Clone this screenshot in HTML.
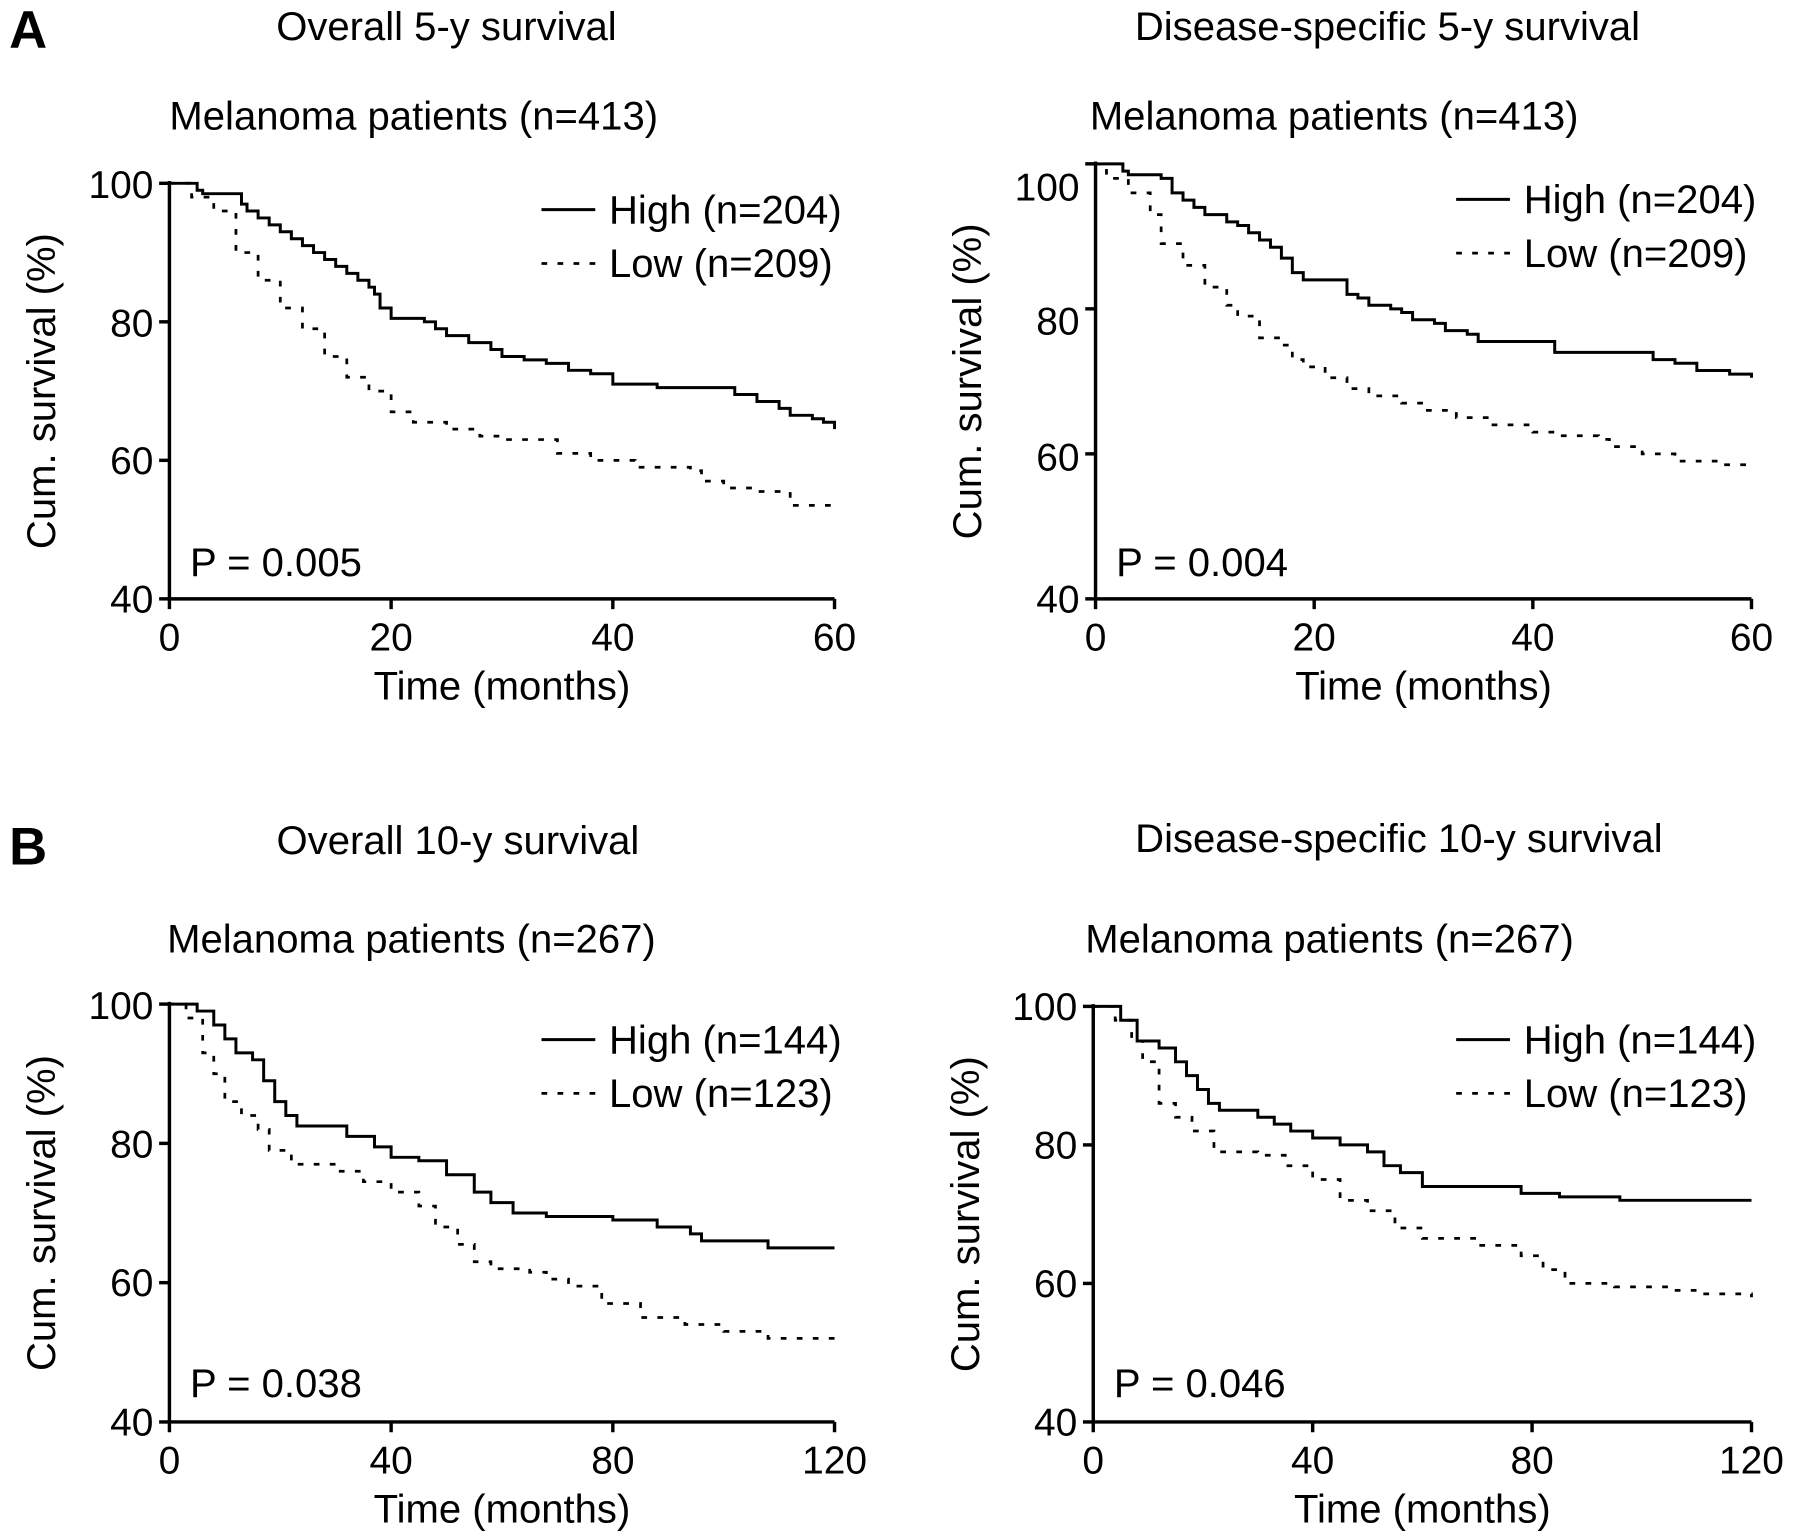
<!DOCTYPE html>
<html><head><meta charset="utf-8"><style>
html,body{margin:0;padding:0;background:#fff}
svg{display:block}
text{font-family:"Liberation Sans",Arial,sans-serif;fill:#000}
</style></head><body>
<svg id="fig" width="1795" height="1540" viewBox="0 0 1568 1345" xmlns="http://www.w3.org/2000/svg"></svg>
<script>
// ---- data ----
const a1HighT=[0,2,2.5,3,6.5,7,8,9,10,11,12,13,14,15,16,17,18,18.5,19,20,23,24,25,27,29,30,32,34,36,38,40,44,51,53,55,56,58,59,60];
const a1HighV=[100,100,99,98.5,97,96,95,94,93,92,91,90,89,88,87,86,85,84,82,80.5,80,79,78,77,76,75,74.5,74,73,72.5,71,70.5,69.5,68.5,67.5,66.5,66,65.5,64.5];
const a1LowT=[0,2,4,6,8,10,12,14,16,18,20,22,25,28,30,35,38,42,47,48,50,53,56,60];
const a1LowV=[100,98,96,90,86,82,79,75,72,70,67,65.5,64.5,63.5,63,61,60,59,58.5,57,56,55.5,53.5,53];
const a2HighT=[0,2,2.5,3,6,7,8,9,10,12,13,14,15,16,17,18,19,22,23,24,25,27,28,29,31,32,34,35,39,42,50,51,53,55,58,60];
const a2HighV=[100,100,99,98.5,98,96,95,94,93,92,91.5,90.5,89.5,88.5,87,85,84,84,82,81.5,80.5,80,79.5,78.5,78,77,76.5,75.5,75.5,74,74,73,72.5,71.5,71,70.5];
const a2LowT=[0,1,3,5,6,8,10,12,13,15,17,18,19,21,23,25,28,30,33,36,40,42,46,47,50,53,57,60];
const a2LowV=[100,98,96,93,89,86,83,80.5,79,76,75,73,72,70.5,69,68,67,66,65,64,63,62.5,62,61,60,59,58.5,58];
const b1HighT=[0,5,8,10,12,15,17,19,21,23,32,37,40,45,50,55,58,62,68,80,88,94,96,108,120];
const b1HighV=[100,99,97,95,93,92,89,86,84,82.5,81,79.5,78,77.5,75.5,73,71.5,70,69.5,69,68,67,66,65,65];
const b1LowT=[0,3,6,8,10,13,16,18,22,30,35,40,45,48,52,55,58,65,68,72,78,85,93,100,108,120];
const b1LowV=[100,98,93,90,86,84,82,79,77,76,74.5,73,71,68,65.5,63,62,61.5,60.5,59.5,57,55,54,53,52,52];
const b2HighT=[0,5,8,12,15,17,19,21,23,30,33,36,40,45,50,53,56,60,75,78,85,96,120];
const b2HighV=[100,98,95,94,92,90,88,86,85,84,83,82,81,80,79,77,76,74,74,73,72.5,72,72];
const b2LowT=[0,4,7,9,12,15,18,22,30,35,40,45,50,55,60,70,78,82,86,95,105,110,120];
const b2LowV=[100,98,95,92,86,84,82,79,78.5,77,75,72,70.5,68,66.5,65.5,64,62,60,59.5,59,58.5,58];
const yTicks=[40,60,80,100];
const xTicks5=[0,20,40,60];
const xTicks10=[0,40,80,120];

const NS="http://www.w3.org/2000/svg";
const svg=document.getElementById('fig');
function el(tag,attrs,parent,txt){const e=document.createElementNS(NS,tag);for(const k in attrs)e.setAttribute(k,attrs[k]);if(txt!==undefined)e.textContent=txt;(parent||svg).appendChild(e);return e;}

function panel(cfg){
  const g=el('g',{});
  
  
  const sx=t=>cfg.x0+(t-0)/cfg.xmax*(cfg.x1-cfg.x0);
  const sy=v=>cfg.y0+(v-40)/60*(cfg.y1-cfg.y0);
  const ax=el('path',{d:`M${sx(0)} ${sy(100)-2} V${sy(40)} H${sx(cfg.xmax)}`,stroke:'#000','stroke-width':3,fill:'none'},g);
  
  
  yTicks.forEach((v,i)=>{
    el('line',{x1:sx(0)-9,x2:sx(0),y1:sy(v),y2:sy(v),stroke:'#000','stroke-width':3},g);
    const t=el('text',{x:sx(0)-14,y:cfg.yLab[i],'text-anchor':'end','font-size':34},g,String(v));
    
    
  });
  cfg.xt.forEach(v=>{
    el('line',{x1:sx(v),x2:sx(v),y1:sy(40),y2:sy(40)+9,stroke:'#000','stroke-width':3},g);
    const t=el('text',{x:sx(v),y:sy(40)+45,'text-anchor':'middle','font-size':34},g,String(v));
    
    
  });
  const xt=el('text',{x:(sx(0)+sx(cfg.xmax))/2,y:sy(40)+88,'text-anchor':'middle','font-size':35},g,'Time (months)');
  
  
  const yc=(sy(40)+sy(100))/2;
  const yt=el('text',{x:0,y:0,'text-anchor':'middle','font-size':35,transform:`translate(${sx(0)-100},${yc}) rotate(-90)`},g,'Cum. survival (%)');
  
  
  function step(T,V){let d=`M${sx(T[0])} ${sy(V[0])}`;for(let i=1;i<T.length;i++){d+=` H${sx(T[i])} V${sy(V[i])}`;}return d;}
  const hi=el('path',{d:step(cfg.hT,cfg.hV),stroke:'#000','stroke-width':2.6,fill:'none'},g);
  
  
  const lo=el('path',{d:step(cfg.lT,cfg.lV),stroke:'#000','stroke-width':2.4,fill:'none','stroke-dasharray':'5 9'},g);
  
  
  const tt=el('text',{x:cfg.titleX,y:cfg.titleY,'text-anchor':'middle','font-size':35},g,cfg.title);
  
  
  const st=el('text',{x:cfg.subX,y:cfg.subY,'font-size':35},g,cfg.sub);
  
  
  const lg=el('g',{},g);
  
  
  el('line',{x1:cfg.lgX,x2:cfg.lgX+47,y1:cfg.lgY,y2:cfg.lgY,stroke:'#000','stroke-width':2.6},lg);
  const l1=el('text',{x:cfg.lgX+59,y:cfg.lgY+12,'font-size':35},lg,cfg.hiLab);
  
  
  el('line',{x1:cfg.lgX,x2:cfg.lgX+47,y1:cfg.lgY+47,y2:cfg.lgY+47,stroke:'#000','stroke-width':2.4,'stroke-dasharray':'5 9'},lg);
  const l2=el('text',{x:cfg.lgX+59,y:cfg.lgY+59,'font-size':35},lg,cfg.loLab);
  
  
  const p=el('text',{x:sx(0)+18,y:cfg.pY,'font-size':35},g,cfg.p);
  
  
}

const la=el('text',{x:8,y:42,'font-size':46,'font-weight':'bold'},svg,'A');


const lb=el('text',{x:8,y:755,'font-size':46,'font-weight':'bold'},svg,'B');



panel({name:'overall-5y-chart',x0:148,x1:729,y0:523,y1:160,xmax:60,xt:xTicks5,yLab:[535,414,294,173],
  hT:a1HighT,hV:a1HighV,lT:a1LowT,lV:a1LowV,title:'Overall 5-y survival',titleX:390,titleY:35,
  sub:'Melanoma patients (n=413)',subX:148,subY:113,lgX:473,lgY:183,hiLab:'High (n=204)',loLab:'Low  (n=209)',pY:503,p:'P = 0.005'});
panel({name:'disease-specific-5y-chart',x0:957,x1:1530,y0:523,y1:143,xmax:60,xt:xTicks5,yLab:[535,411,292,175],
  hT:a2HighT,hV:a2HighV,lT:a2LowT,lV:a2LowV,title:'Disease-specific 5-y survival',titleX:1212,titleY:35,
  sub:'Melanoma patients (n=413)',subX:952,subY:113,lgX:1272,lgY:174,hiLab:'High (n=204)',loLab:'Low  (n=209)',pY:503,p:'P = 0.004'});
panel({name:'overall-10y-chart',x0:148,x1:729,y0:1242,y1:877,xmax:120,xt:xTicks10,yLab:[1254,1132,1011,890],
  hT:b1HighT,hV:b1HighV,lT:b1LowT,lV:b1LowV,title:'Overall 10-y survival',titleX:400,titleY:746,
  sub:'Melanoma patients (n=267)',subX:146,subY:832,lgX:473,lgY:908,hiLab:'High (n=144)',loLab:'Low  (n=123)',pY:1220,p:'P = 0.038'});
panel({name:'disease-specific-10y-chart',x0:955,x1:1530,y0:1242,y1:879,xmax:120,xt:xTicks10,yLab:[1254,1133,1012,891],
  hT:b2HighT,hV:b2HighV,lT:b2LowT,lV:b2LowV,title:'Disease-specific 10-y survival',titleX:1222,titleY:744,
  sub:'Melanoma patients (n=267)',subX:948,subY:832,lgX:1272,lgY:908,hiLab:'High (n=144)',loLab:'Low  (n=123)',pY:1220,p:'P = 0.046'});
</script>
</body></html>
